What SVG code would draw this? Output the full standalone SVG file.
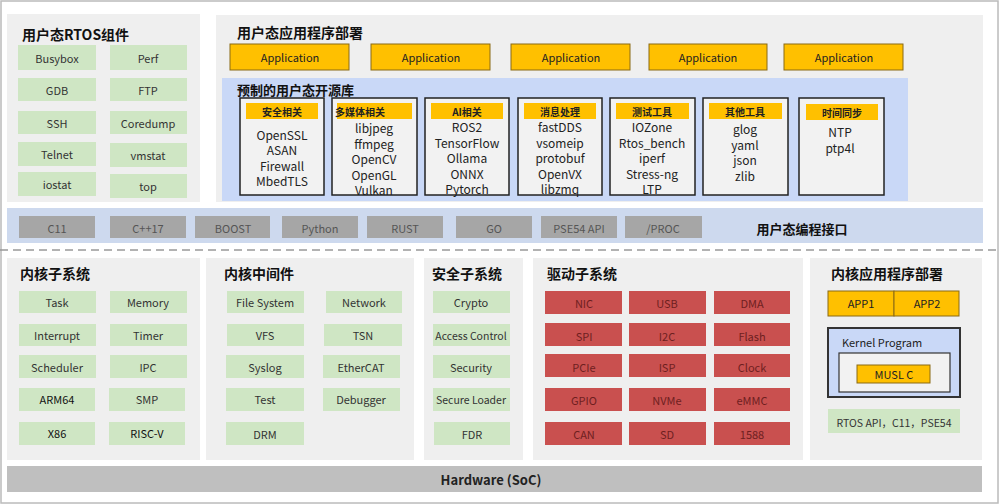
<svg xmlns="http://www.w3.org/2000/svg" width="1000" height="504" viewBox="0 0 1000 504">
<style>
text{font-family:"Noto Sans CJK SC","Noto Sans",sans-serif;text-anchor:middle;dominant-baseline:central}
.t{font-weight:bold;font-size:14px;text-anchor:start;fill:#111}
.panel{fill:#efefef}
.g{fill:#cfe6c4}
.gt{font-size:11px;fill:#333}
.app{fill:#ffc000;stroke:#8a6a14;stroke-width:1}
.at{font-size:11px;fill:#222}
.lib{fill:#f2f2f2;stroke:#222;stroke-width:1.5}
.hd{fill:#ffc000}
.ht{font-size:10px;font-weight:bold;fill:#222}
.lt{font-size:12px;fill:#222}
.gr{fill:#a6a6a6}
.grt{font-size:11px;fill:#555}
.r{fill:#c9504f}
.rt{font-size:11px;fill:#6e1f1f}
</style>
<rect x="1" y="1" width="997" height="502" fill="#fff" stroke="#bbb" stroke-width="1.5"/>

<g id="rtos-components">
<rect class="panel" x="7" y="14" width="193" height="188"/>
<text class="t" x="22" y="34">用户态RTOS组件</text>
<rect class="g" x="18" y="45" width="78" height="25"/><text class="gt" x="57" y="58">Busybox</text>
<rect class="g" x="110" y="45" width="77" height="25"/><text class="gt" x="148" y="58">Perf</text>
<rect class="g" x="18" y="78" width="78" height="23"/><text class="gt" x="57" y="90">GDB</text>
<rect class="g" x="110" y="78" width="77" height="23"/><text class="gt" x="148" y="90">FTP</text>
<rect class="g" x="18" y="111" width="78" height="23"/><text class="gt" x="57" y="123">SSH</text>
<rect class="g" x="110" y="111" width="77" height="23"/><text class="gt" x="148" y="123">Coredump</text>
<rect class="g" x="18" y="142" width="78" height="24"/><text class="gt" x="57" y="154">Telnet</text>
<rect class="g" x="110" y="143" width="77" height="24"/><text class="gt" x="148" y="155">vmstat</text>
<rect class="g" x="18" y="172" width="78" height="24"/><text class="gt" x="57" y="184">iostat</text>
<rect class="g" x="110" y="174" width="77" height="24"/><text class="gt" x="148" y="186">top</text>
</g>

<g id="user-apps">
<rect class="panel" x="216" y="15" width="767" height="187"/>
<text class="t" x="237" y="32">用户态应用程序部署</text>
<rect class="app" x="230" y="44" width="119" height="26"/><text class="at" x="290" y="57">Application</text>
<rect class="app" x="371" y="44" width="119" height="26"/><text class="at" x="431" y="57">Application</text>
<rect class="app" x="511" y="44" width="119" height="26"/><text class="at" x="571" y="57">Application</text>
<rect class="app" x="649" y="44" width="118" height="26"/><text class="at" x="708" y="57">Application</text>
<rect class="app" x="784" y="44" width="119" height="26"/><text class="at" x="844" y="57">Application</text>
</g>

<g id="open-libs">
<rect x="222" y="78" width="686" height="123" fill="#c9d8f7"/>
<text class="t" x="237" y="89" style="font-size:13px">预制的用户态开源库</text>
<rect class="lib" x="240" y="98" width="84" height="97"/><rect class="hd" x="246" y="103" width="72" height="16"/><text class="ht" x="282" y="111">安全相关</text>
<text class="lt" x="282" y="134">OpenSSL</text><text class="lt" x="282" y="149">ASAN</text><text class="lt" x="282" y="165">Firewall</text><text class="lt" x="282" y="180">MbedTLS</text>
<rect class="lib" x="332" y="98" width="85" height="97"/><rect class="hd" x="337" y="103" width="75" height="16"/><text class="ht" x="360" y="111">多媒体相关</text>
<text class="lt" x="374" y="127">libjpeg</text><text class="lt" x="374" y="143">ffmpeg</text><text class="lt" x="374" y="158">OpenCV</text><text class="lt" x="374" y="174">OpenGL</text><text class="lt" x="374" y="189">Vulkan</text>
<rect class="lib" x="425" y="98" width="84" height="97"/><rect class="hd" x="431" y="103" width="72" height="16"/><text class="ht" x="467" y="111">AI相关</text>
<text class="lt" x="467" y="126">ROS2</text><text class="lt" x="467" y="142">TensorFlow</text><text class="lt" x="467" y="157">Ollama</text><text class="lt" x="467" y="173">ONNX</text><text class="lt" x="467" y="188">Pytorch</text>
<rect class="lib" x="518" y="98" width="84" height="97"/><rect class="hd" x="524" y="103" width="72" height="16"/><text class="ht" x="560" y="111">消息处理</text>
<text class="lt" x="560" y="126">fastDDS</text><text class="lt" x="560" y="142">vsomeip</text><text class="lt" x="560" y="157">protobuf</text><text class="lt" x="560" y="173">OpenVX</text><text class="lt" x="560" y="188">libzmq</text>
<rect class="lib" x="610" y="98" width="85" height="97"/><rect class="hd" x="616" y="103" width="73" height="16"/><text class="ht" x="652" y="111">测试工具</text>
<text class="lt" x="652" y="126">IOZone</text><text class="lt" x="652" y="142">Rtos_bench</text><text class="lt" x="652" y="157">iperf</text><text class="lt" x="652" y="173">Stress-ng</text><text class="lt" x="652" y="188">LTP</text>
<rect class="lib" x="703" y="98" width="85" height="97"/><rect class="hd" x="709" y="103" width="73" height="16"/><text class="ht" x="745" y="111">其他工具</text>
<text class="lt" x="745" y="128">glog</text><text class="lt" x="745" y="144">yaml</text><text class="lt" x="745" y="159">json</text><text class="lt" x="745" y="175">zlib</text>
<rect class="lib" x="799" y="98" width="85" height="97"/><rect class="hd" x="806" y="104" width="72" height="16"/><text class="ht" x="842" y="112">时间同步</text>
<text class="lt" x="840" y="131">NTP</text><text class="lt" x="840" y="147">ptp4l</text>
</g>

<g id="user-api">
<rect x="7" y="208" width="976" height="35" fill="#cdd9ee"/>
<rect class="gr" x="19" y="216" width="76" height="22"/><text class="grt" x="57" y="228">C11</text>
<rect class="gr" x="110" y="216" width="76" height="22"/><text class="grt" x="148" y="228">C++17</text>
<rect class="gr" x="195" y="216" width="75" height="22"/><text class="grt" x="233" y="228">BOOST</text>
<rect class="gr" x="282" y="216" width="76" height="22"/><text class="grt" x="320" y="228">Python</text>
<rect class="gr" x="367" y="216" width="76" height="22"/><text class="grt" x="405" y="228">RUST</text>
<rect class="gr" x="456" y="216" width="76" height="22"/><text class="grt" x="494" y="228">GO</text>
<rect class="gr" x="541" y="216" width="76" height="22"/><text class="grt" x="579" y="228">PSE54 API</text>
<rect class="gr" x="625" y="216" width="77" height="22"/><text class="grt" x="663" y="228">/PROC</text>
<text x="802" y="228" style="font-size:13px;font-weight:bold;fill:#111">用户态编程接口</text>
</g>

<g id="connectors">
<line x1="0" y1="250" x2="998" y2="250" stroke="#999" stroke-width="1.5" stroke-dasharray="8,5"/>
</g>

<g id="kernel-subsystem">
<rect class="panel" x="7" y="258" width="193" height="202"/>
<text class="t" x="20" y="273">内核子系统</text>
<rect class="g" x="19" y="291" width="77" height="22"/><text class="gt" x="57" y="302">Task</text>
<rect class="g" x="110" y="291" width="77" height="22"/><text class="gt" x="148" y="302">Memory</text>
<rect class="g" x="19" y="324" width="77" height="22"/><text class="gt" x="57" y="335">Interrupt</text>
<rect class="g" x="110" y="324" width="77" height="22"/><text class="gt" x="148" y="335">Timer</text>
<rect class="g" x="19" y="355" width="77" height="23"/><text class="gt" x="57" y="367">Scheduler</text>
<rect class="g" x="110" y="355" width="77" height="23"/><text class="gt" x="148" y="367">IPC</text>
<rect class="g" x="19" y="388" width="76" height="23"/><text class="gt" x="57" y="399" style="fill:#111">ARM64</text>
<rect class="g" x="109" y="388" width="76" height="23"/><text class="gt" x="147" y="399">SMP</text>
<rect class="g" x="19" y="422" width="76" height="23"/><text class="gt" x="57" y="433" style="fill:#111">X86</text>
<rect class="g" x="109" y="422" width="76" height="23"/><text class="gt" x="147" y="433" style="fill:#111">RISC-V</text>
</g>

<g id="kernel-middleware">
<rect class="panel" x="206" y="258" width="208" height="202"/>
<text class="t" x="224" y="273">内核中间件</text>
<rect class="g" x="227" y="291" width="77" height="22"/><text class="gt" x="265" y="302">File System</text>
<rect class="g" x="326" y="291" width="76" height="22"/><text class="gt" x="364" y="302">Network</text>
<rect class="g" x="227" y="324" width="77" height="22"/><text class="gt" x="265" y="335">VFS</text>
<rect class="g" x="324" y="324" width="78" height="22"/><text class="gt" x="363" y="335">TSN</text>
<rect class="g" x="226" y="355" width="78" height="23"/><text class="gt" x="265" y="367">Syslog</text>
<rect class="g" x="323" y="355" width="77" height="23"/><text class="gt" x="361" y="367">EtherCAT</text>
<rect class="g" x="226" y="388" width="78" height="23"/><text class="gt" x="265" y="399">Test</text>
<rect class="g" x="323" y="388" width="77" height="23"/><text class="gt" x="361" y="399">Debugger</text>
<rect class="g" x="226" y="422" width="78" height="23"/><text class="gt" x="265" y="434">DRM</text>
</g>

<g id="security-subsystem">
<rect class="panel" x="424" y="258" width="99" height="202"/>
<text class="t" x="432" y="273">安全子系统</text>
<rect class="g" x="433" y="291" width="77" height="22"/><text class="gt" x="471" y="302">Crypto</text>
<rect class="g" x="433" y="324" width="77" height="22"/><text class="gt" x="471" y="335" style="font-size:10.5px">Access Control</text>
<rect class="g" x="433" y="355" width="77" height="23"/><text class="gt" x="471" y="367">Security</text>
<rect class="g" x="433" y="388" width="77" height="23"/><text class="gt" x="471" y="399" style="font-size:10.5px">Secure Loader</text>
<rect class="g" x="434" y="422" width="76" height="23"/><text class="gt" x="472" y="434">FDR</text>
</g>

<g id="driver-subsystem">
<rect class="panel" x="533" y="258" width="270" height="202"/>
<text class="t" x="547" y="273">驱动子系统</text>
<rect class="r" x="545" y="291" width="77" height="23"/><text class="rt" x="584" y="303">NIC</text>
<rect class="r" x="629" y="291" width="77" height="23"/><text class="rt" x="667" y="303">USB</text>
<rect class="r" x="714" y="291" width="76" height="23"/><text class="rt" x="752" y="303">DMA</text>
<rect class="r" x="545" y="323" width="77" height="23"/><text class="rt" x="584" y="336">SPI</text>
<rect class="r" x="629" y="323" width="77" height="23"/><text class="rt" x="667" y="336">I2C</text>
<rect class="r" x="714" y="323" width="76" height="23"/><text class="rt" x="752" y="336">Flash</text>
<rect class="r" x="545" y="354" width="77" height="23"/><text class="rt" x="584" y="367">PCIe</text>
<rect class="r" x="629" y="354" width="77" height="23"/><text class="rt" x="667" y="367">ISP</text>
<rect class="r" x="714" y="354" width="76" height="23"/><text class="rt" x="752" y="367">Clock</text>
<rect class="r" x="545" y="388" width="77" height="23"/><text class="rt" x="584" y="400">GPIO</text>
<rect class="r" x="629" y="388" width="77" height="23"/><text class="rt" x="667" y="400">NVMe</text>
<rect class="r" x="714" y="388" width="76" height="23"/><text class="rt" x="752" y="400">eMMC</text>
<rect class="r" x="545" y="422" width="77" height="23"/><text class="rt" x="584" y="434">CAN</text>
<rect class="r" x="629" y="422" width="77" height="23"/><text class="rt" x="667" y="434">SD</text>
<rect class="r" x="714" y="422" width="76" height="23"/><text class="rt" x="752" y="434">1588</text>
</g>

<g id="kernel-apps">
<rect class="panel" x="810" y="258" width="172" height="202"/>
<text class="t" x="831" y="273">内核应用程序部署</text>
<rect class="app" x="828" y="291" width="66" height="25"/><text class="at" x="861" y="303">APP1</text>
<rect class="app" x="894" y="291" width="65" height="25"/><text class="at" x="927" y="303">APP2</text>
<rect x="828" y="328" width="132" height="69" fill="#c9d8f7" stroke="#333" stroke-width="2"/>
<text x="842" y="342" style="font-size:11px;fill:#222;text-anchor:start">Kernel Program</text>
<rect x="839" y="353" width="111" height="39" fill="#f2f2f2" stroke="#333" stroke-width="1.2"/>
<rect class="app" x="857" y="365" width="73" height="18"/><text class="at" x="894" y="374">MUSL C</text>
<rect class="g" x="828" y="409" width="132" height="24"/><text class="gt" x="894" y="422" style="font-size:10.5px">RTOS API，C11，PSE54</text>
</g>

<g id="hardware">
<rect x="7" y="466" width="975" height="26" fill="#bfbfbf"/>
<text x="491" y="479" style="font-size:13px;font-weight:bold;fill:#222">Hardware (SoC)</text>
</g>
</svg>
